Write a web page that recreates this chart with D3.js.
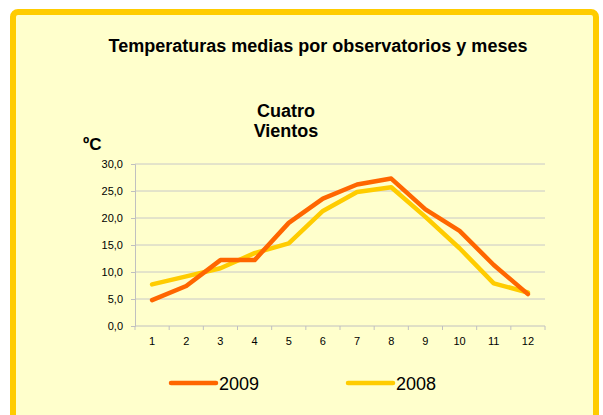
<!DOCTYPE html>
<html>
<head>
<meta charset="utf-8">
<script src="https://cdn.jsdelivr.net/npm/d3@7"></script>
<style>
  body { margin: 0; background: #fff; }
  text { font-family: "Liberation Sans", Arial, sans-serif; }
</style>
</head>
<body>
<svg width="603" height="415"></svg>
<script>
// monthly means, Cuatro Vientos
var months = ['1','2','3','4','5','6','7','8','9','10','11','12'];
var t2009 = [4.8, 7.4, 12.2, 12.2, 19.1, 23.6, 26.2, 27.3, 21.6, 17.6, 11.3, 5.9];
var t2008 = [7.7, 9.2, 10.7, 13.5, 15.3, 21.3, 24.8, 25.7, 20.2, 14.4, 7.9, 6.2];
var yTicks = [0, 5, 10, 15, 20, 25, 30];

var series = [
    {name: '2009', values: t2009, color: '#FF6600'},
    {name: '2008', values: t2008, color: '#FFCC00'}
];

var svg = d3.select('svg');

// frame
svg.append('rect')
    .attr('x', 13).attr('y', 12)
    .attr('width', 583).attr('height', 430)
    .attr('rx', 5)
    .style('fill', '#FFFFCC')
    .style('stroke', '#FFCC00')
    .style('stroke-width', 6);

var x = d3.scaleBand().domain(months).range([135, 545]);
var y = d3.scaleLinear().domain([0, 30]).range([326, 164]);

// gridlines
svg.append('g').selectAll('line')
    .data(yTicks.slice(1))
    .enter().append('line')
    .attr('x1', 135).attr('x2', 545)
    .attr('y1', d => y(d)).attr('y2', d => y(d))
    .style('stroke', '#C8C8C8')
    .style('stroke-width', 1);

// y axis
var yAxis = d3.axisLeft(y).tickValues(yTicks).tickSize(4).tickPadding(8)
    .tickFormat(d => d3.format('.1f')(d).replace('.', ','));
var gy = svg.append('g').attr('transform', 'translate(135,0)').call(yAxis);
gy.select('.domain').style('stroke', '#C0C0C0');
gy.selectAll('.tick line').style('stroke', '#C0C0C0');
gy.selectAll('text').style('font-size', '11px').style('fill', '#000');

// x axis
var xAxis = d3.axisBottom(x).tickSize(0).tickPadding(11);
var gx = svg.append('g').attr('transform', 'translate(0,326)').call(xAxis);
gx.select('.domain').remove();
gx.selectAll('text').style('font-size', '11px').style('fill', '#000');
gx.append('line').attr('x1', 135).attr('x2', 545)
    .style('stroke', '#C0C0C0');
gx.selectAll('.sep')
    .data(months.concat(['end']))
    .enter().append('line')
    .attr('class', 'sep')
    .attr('x1', (d, i) => 135 + i * x.step())
    .attr('x2', (d, i) => 135 + i * x.step())
    .attr('y1', 0).attr('y2', 4)
    .style('stroke', '#C0C0C0');

// lines
var line = d3.line()
    .x((d, i) => x(months[i]) + x.bandwidth() / 2)
    .y(d => y(d));
svg.append('g').selectAll('path')
    .data(series.slice().reverse())
    .enter().append('path')
    .attr('d', d => line(d.values))
    .style('fill', 'none')
    .style('stroke', d => d.color)
    .style('stroke-width', 4.5)
    .style('stroke-linejoin', 'round')
    .style('stroke-linecap', 'round');

// titles
svg.append('text')
    .attr('x', 318).attr('y', 52)
    .style('text-anchor', 'middle')
    .style('font-size', '18px').style('font-weight', 'bold')
    .text('Temperaturas medias por observatorios y meses');
svg.append('text')
    .attr('x', 286).attr('y', 117)
    .style('text-anchor', 'middle')
    .style('font-size', '18px').style('font-weight', 'bold')
    .text('Cuatro');
svg.append('text')
    .attr('x', 286).attr('y', 137)
    .style('text-anchor', 'middle')
    .style('font-size', '18px').style('font-weight', 'bold')
    .text('Vientos');
svg.append('text')
    .attr('x', 83).attr('y', 150)
    .style('font-size', '17px').style('font-weight', 'bold')
    .text('ºC');

// legend
var legend = svg.append('g').selectAll('g')
    .data(series)
    .enter().append('g')
    .attr('transform', (d, i) => 'translate(' + (171 + i * 177) + ',383)');
legend.append('line')
    .attr('x1', 0).attr('x2', 45)
    .style('stroke', d => d.color)
    .style('stroke-width', 4.5)
    .style('stroke-linecap', 'round');
legend.append('text')
    .attr('x', 48).attr('y', 7)
    .style('font-size', '18px')
    .text(d => d.name);
</script>
</body>
</html>
